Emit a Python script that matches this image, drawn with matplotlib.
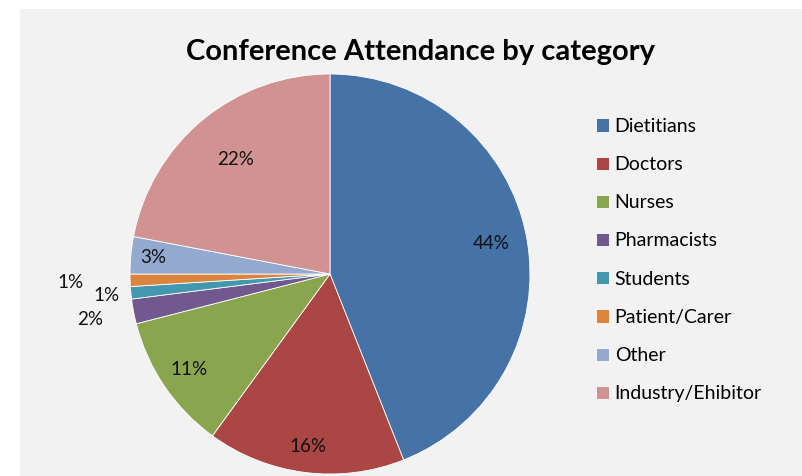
import matplotlib
matplotlib.use("Agg")
import numpy as np
import matplotlib.pyplot as plt
from matplotlib.patches import Rectangle

categories = ["Dietitians", "Doctors", "Nurses", "Pharmacists", "Students",
              "Patient/Carer", "Other", "Industry/Ehibitor"]
shares = [44, 16, 11, 2, 1, 1, 3, 22]
pct_labels = ["44%", "16%", "11%", "2%", "1%", "1%", "3%", "22%"]

colors = ["#4572A7", "#AA4643", "#89A54E", "#71588F", "#4198AF",
          "#DB843D", "#93A9CF", "#D19392"]
label_dist = [0.82, 0.87, 0.85, 1.22, 1.12, 1.30, 0.89, 0.74]

plt.rcParams["font.family"] = ["Lato", "DejaVu Sans"]

W, H = 802, 476
fig = plt.figure(figsize=(W / 100, H / 100), dpi=100)
fig.patches.append(Rectangle((20 / W, 0), 1 - 20 / W, 1 - 9 / H,
                             transform=fig.transFigure, facecolor="#f2f2f2",
                             edgecolor="none", zorder=-10))

ax = fig.add_axes([130 / W, 2 / H, 400 / W, 400 / H])
wedges, _ = ax.pie(shares, colors=colors, startangle=90, counterclock=False,
                   radius=1, wedgeprops=dict(edgecolor="white", linewidth=0.6))
ax.set_xlim(-1, 1)
ax.set_ylim(-1, 1)
ax.set_aspect("equal")
ax.axis("off")

for w, lab, d in zip(wedges, pct_labels, label_dist):
    ang = np.deg2rad((w.theta1 + w.theta2) / 2)
    ax.text(d * np.cos(ang), d * np.sin(ang), lab, ha="center", va="center",
            fontsize=13.5, color="#111111", clip_on=False)

fig.text(420 / W, 1 - 52 / H, "Conference Attendance by category",
         ha="center", va="center", fontsize=21, fontweight="bold")

fig.legend(wedges, categories, loc="upper left",
           bbox_to_anchor=(588 / W, 1 - 110 / H), frameon=False,
           fontsize=14, labelspacing=1.09, handlelength=0.67,
           handleheight=0.67, handletextpad=0.3, borderaxespad=0)

fig.savefig("out.png", dpi=100, facecolor="white")
